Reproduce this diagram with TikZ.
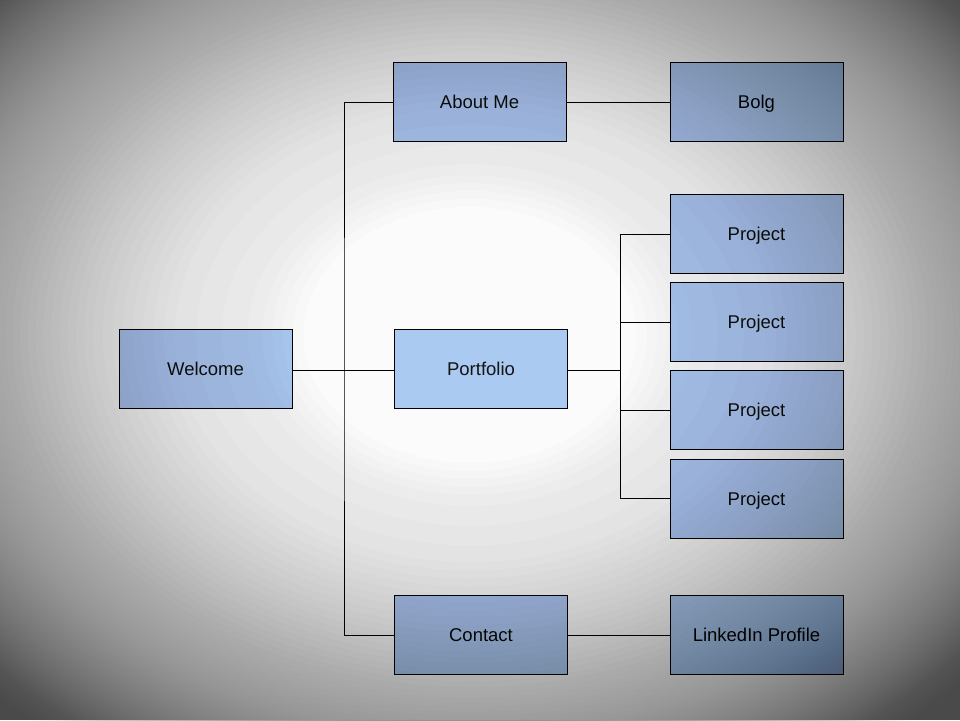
\documentclass[tikz,border=0pt]{standalone}
\usepackage{fontspec}
\setmainfont{Liberation Sans}
\definecolor{boxblue}{RGB}{170,202,242}
\definecolor{bgbase}{RGB}{251,251,251}
\tikzset{
  pagebox/.style={draw=black, line width=0.8pt, fill=boxblue, minimum width=173pt, minimum height=79pt, inner sep=0pt, text height=13.3pt, text depth=0pt, font=\fontsize{18.5}{22}\selectfont, text=black!92},
  link/.style={draw=black, line width=0.8pt},
  vring/.style={fill=black, fill opacity=0.01, even odd rule}
}
\begin{document}
\begin{tikzpicture}[x=1pt,y=-1pt]
\useasboundingbox (0,0) rectangle (960,720);
\fill[bgbase] (0,0) rectangle (960,720);
\node[pagebox] (wel) at (205.5,368.5) {Welcome};
\node[pagebox] (about) at (479.5,102) {About Me};
\node[pagebox] (bolg) at (756.5,102) {Bolg};
\node[pagebox] (por) at (481,368.5) {Portfolio};
\node[pagebox] (con) at (481,635) {Contact};
\node[pagebox] (lin) at (756.5,635) {LinkedIn Profile};
\node[pagebox] (p1) at (756.5,234) {Project};
\node[pagebox] (p2) at (756.5,322) {Project};
\node[pagebox] (p3) at (756.5,410) {Project};
\node[pagebox] (p4) at (756.5,498.5) {Project};
\coordinate (sp) at (344,370);
\coordinate (sp2) at (620,370);
\draw[link] (wel.east |- sp) -- (por.west |- sp);
\draw[link] (about.west) -| (sp) |- (con.west);
\draw[link] (about.east) -- (bolg.west);
\draw[link] (con.east) -- (lin.west);
\draw[link] (por.east |- sp2) -- (sp2);
\draw[link] (p1.west) -| (sp2) |- (p4.west);
\draw[link] (p2.west) -- (p2.west -| sp2);
\draw[link] (p3.west) -- (p3.west -| sp2);
% vignette: stacked translucent rings, equal opacity, spacing sets the profile
\coordinate (vc) at (470,335);
\foreach \k in {1,...,80}{
  \pgfmathsetmacro{\A}{1-0.9855^\k}
  \pgfmathsetmacro{\dd}{\A<0.08 ? 120+45*\A/0.08 : (\A<0.12 ? 165+60*(\A-0.08)/0.04 : (\A<0.22 ? 225+65*(\A-0.12)/0.10 : (\A<0.34 ? 290+70*(\A-0.22)/0.12 : (\A<0.42 ? 360+40*(\A-0.34)/0.08 : 400+100*(\A-0.42)/0.24))))}
  \fill[vring] (0,0) rectangle (960,720) (vc) ellipse [x radius=1.3*\dd, y radius=\dd];
}
\end{tikzpicture}
\end{document}
